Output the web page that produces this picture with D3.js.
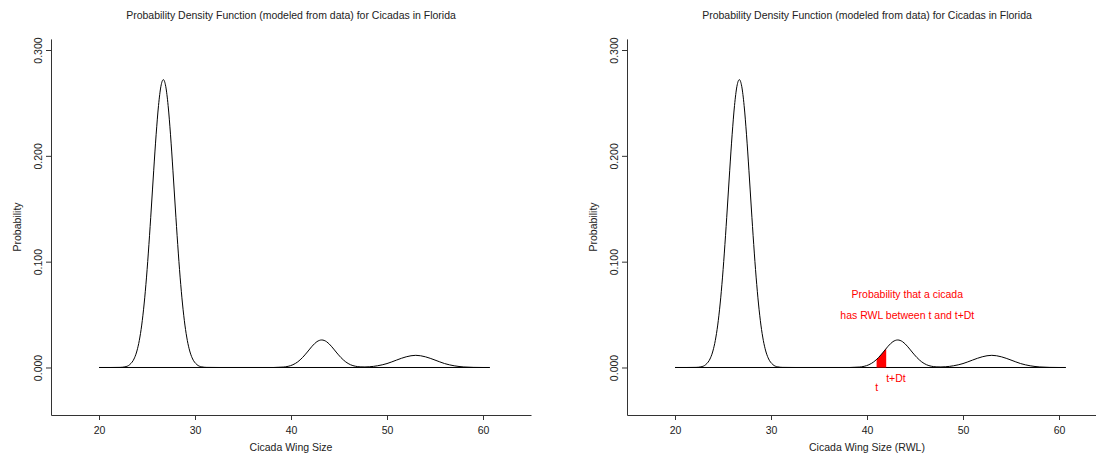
<!DOCTYPE html>
<html>
<head>
<meta charset="utf-8">
<script src="https://cdn.jsdelivr.net/npm/d3@7"></script>
<style>
  html, body { margin: 0; padding: 0; background: #fff; }
  svg { display: block; font-family: "Liberation Sans", Arial, Helvetica, sans-serif; }
</style>
</head>
<body>
<svg id="chart" width="1096" height="454"></svg>
<script>
// ---- data ----
const title = "Probability Density Function (modeled from data) for Cicadas in Florida";
const xLabels = ["Cicada Wing Size", "Cicada Wing Size (RWL)"];
const yLabel = "Probability";
const xTicks = [20, 30, 40, 50, 60];
const yTicks = [0.0, 0.1, 0.2, 0.3];

// density curve (wing size, probability)
const wingSize = [20, 21.2, 22.2, 22.7, 23.2, 23.7, 23.95, 24.2, 24.45, 24.7, 24.95, 25.2, 25.45, 25.7, 25.95, 26.2, 26.45, 26.7,
  26.95, 27.2, 27.45, 27.7, 27.95, 28.2, 28.45, 28.7, 28.95, 29.2, 29.45, 29.7, 30.2, 30.7, 31.2, 32.5, 35, 37,
  38.2, 38.7, 39.2, 39.7, 40.2, 40.7, 41.2, 41.7, 42.2, 42.7, 43.2, 43.7, 44.2, 44.7, 45.2, 45.7, 46.2, 46.7, 47.2, 47.7, 48.2,
  49, 50, 51, 52, 53, 54, 55, 56, 57, 58, 59, 60, 60.7];
const density = [0, 0, 0.0001, 0.0006, 0.0027, 0.0091, 0.0156, 0.0256, 0.0401, 0.0600, 0.0854, 0.1162, 0.1507, 0.1864, 0.2199, 0.2475, 0.2657, 0.2720,
  0.2657, 0.2475, 0.2199, 0.1864, 0.1507, 0.1162, 0.0854, 0.0600, 0.0401, 0.0256, 0.0156, 0.0091, 0.0027, 0.0006, 0.0001, 0, 0, 0,
  0, 0.0002, 0.0004, 0.0011, 0.0026, 0.0053, 0.0094, 0.0146, 0.0201, 0.0244, 0.0260, 0.0244, 0.0201, 0.0146, 0.0094, 0.0053, 0.0026, 0.0012, 0.0006, 0.0005, 0.0007,
  0.0016, 0.0037, 0.0070, 0.0101, 0.0115, 0.0101, 0.0070, 0.0037, 0.0016, 0.0005, 0.0001, 0, 0];

// shaded interval t .. t+Dt
const shadeX = [41, 41.2, 41.7, 42];
const shadeY = [0.0076, 0.0094, 0.0146, 0.0180];

// annotations (text, x, y, anchor)
const noteText = ["Probability that a cicada", "has RWL between t and t+Dt", "t", "t+Dt"];
const noteX = [44.2, 44.2, 41, 42];
const noteY = [0.0695, 0.0496, -0.019, -0.0099];
const noteAnchor = ["middle", "middle", "middle", "start"];

// ---- drawing ----
const svg = d3.select("#chart");
const curve = wingSize.map((x, i) => ({x, y: density[i]}));
const shade = shadeX.map((x, i) => ({x, y: shadeY[i]}));

const panels = [0, 576];
const axisColor = "#333";
const textColor = "#222";
const fs = 10.5;

panels.forEach((off, p) => {
  const g = svg.append("g").attr("transform", `translate(${off},0)`);
  const x = d3.scaleLinear().domain([15, 65]).range([51, 531]);
  const y = d3.scaleLinear().domain([-0.0449, 0.3105]).range([415, 38.9]);

  // title
  g.append("text").attr("x", 291).attr("y", 19).attr("text-anchor", "middle")
    .attr("font-size", fs).attr("fill", textColor).text(title);

  // x axis
  const xa = g.append("g").attr("transform", `translate(0,${y(-0.0449)})`)
    .call(d3.axisBottom(x).tickValues(xTicks).tickSize(5).tickSizeOuter(0).tickPadding(7).tickFormat(d3.format("d")));
  // y axis
  const ya = g.append("g").attr("transform", `translate(${x(15)},0)`)
    .call(d3.axisLeft(y).tickValues(yTicks).tickSize(5).tickSizeOuter(0).tickFormat(d3.format(".3f")));
  [xa, ya].forEach(a => {
    a.attr("font-family", null).attr("font-size", fs);
    a.selectAll("path, line").attr("stroke", axisColor).attr("stroke-width", 1);
    a.selectAll("text").attr("fill", textColor);
  });
  ya.selectAll("text")
    .attr("x", 0).attr("dy", "0.35em").attr("text-anchor", "middle")
    .attr("transform", "translate(-13,0) rotate(-90)");

  // axis labels
  g.append("text").attr("x", 291).attr("y", 451).attr("text-anchor", "middle")
    .attr("font-size", fs).attr("fill", textColor).text(xLabels[p]);
  g.append("text").attr("transform", `translate(17,${(y(-0.0449) + y(0.3105)) / 2}) rotate(-90)`)
    .attr("dy", "0.35em").attr("text-anchor", "middle")
    .attr("font-size", fs).attr("fill", textColor).text(yLabel);

  // baseline at zero
  g.append("line").attr("x1", x(d3.min(wingSize))).attr("x2", x(d3.max(wingSize)))
    .attr("y1", y(0)).attr("y2", y(0)).attr("stroke", "#000").attr("stroke-width", 1);

  if (p === 1) {
    g.append("path").datum(shade)
      .attr("d", d3.area().x(d => x(d.x)).y0(y(0)).y1(d => y(d.y)).curve(d3.curveMonotoneX))
      .attr("fill", "#ff0000").attr("stroke", "none");
  }

  // density curve
  g.append("path").datum(curve)
    .attr("d", d3.line().x(d => x(d.x)).y(d => y(d.y)).curve(d3.curveMonotoneX))
    .attr("fill", "none").attr("stroke", "#000").attr("stroke-width", 1);

  if (p === 1) {
    noteText.forEach((t, i) => {
      g.append("text").attr("x", x(noteX[i])).attr("y", y(noteY[i])).attr("dy", "0.35em")
        .attr("text-anchor", noteAnchor[i]).attr("font-size", fs).attr("fill", "#ff0000").text(t);
    });
  }
});
</script>
</body>
</html>
